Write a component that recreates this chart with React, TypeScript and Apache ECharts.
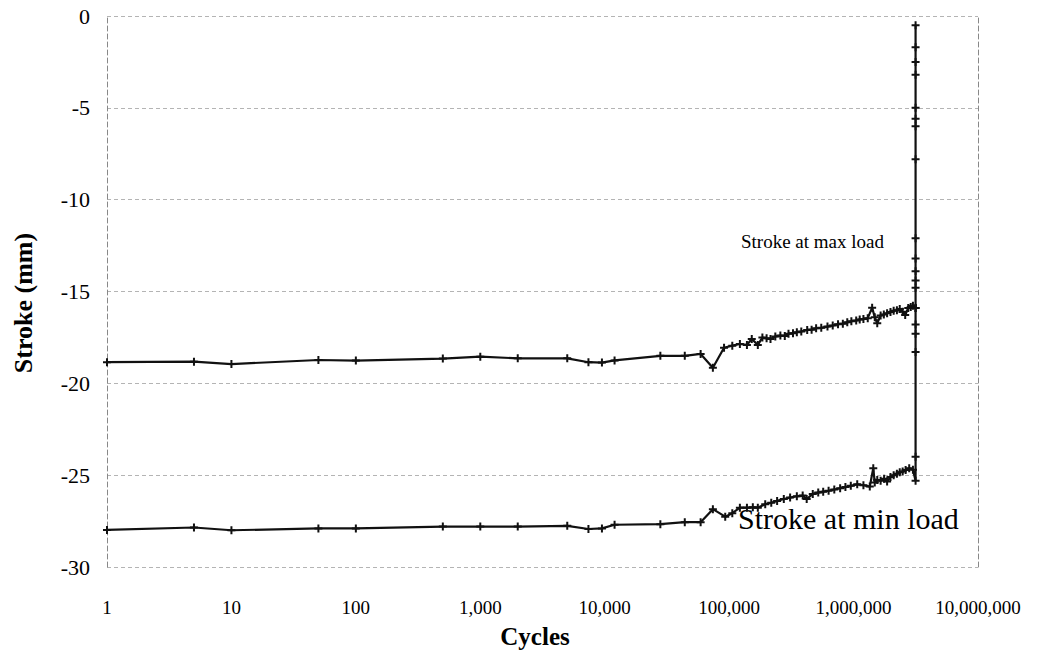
import React, { useEffect, useRef } from "react";
import * as echarts from "echarts";

const xTicks = [1, 10, 100, 1000, 10000, 100000, 1000000, 10000000];
const yTicks = [0, -5, -10, -15, -20, -25, -30];

const maxLoadCycles = [
  1, 5, 10, 50, 100, 500, 1000, 2000, 5000, 7400, 9500, 12000, 28000, 44000, 59000, 74000,
  91000, 106000, 122000, 139000, 152000, 170000, 185000, 200000, 215000, 235000, 258000, 280000,
  300000, 326000, 350000, 380000, 424000, 460000, 500000, 550000, 617000, 680000, 750000, 820000,
  890000, 960000, 1050000, 1120000, 1200000, 1300000, 1410000, 1480000, 1550000, 1650000, 1750000,
  1860000, 1980000, 2100000, 2230000, 2350000, 2480000, 2600000, 2750000, 2880000, 3000000,
  3150000, 3150000, 3150000, 3150000, 3150000, 3150000, 3150000, 3150000, 3150000, 3150000,
  3150000, 3150000, 3150000, 3150000,
];
const maxLoadStroke = [
  -18.85, -18.82, -18.95, -18.73, -18.76, -18.65, -18.55, -18.64, -18.64, -18.85, -18.87, -18.75,
  -18.5, -18.5, -18.4, -19.15, -18.06, -17.95, -17.86, -17.91, -17.58, -17.91, -17.51, -17.55,
  -17.58, -17.45, -17.4, -17.42, -17.3, -17.27, -17.22, -17.18, -17.09, -17.08, -17.0, -16.98,
  -16.91, -16.85, -16.78, -16.75, -16.68, -16.62, -16.58, -16.52, -16.5, -16.45, -15.88, -16.4,
  -16.73, -16.3, -16.25, -16.18, -16.12, -16.05, -16.02, -15.95, -16.1, -16.28, -15.9, -15.85,
  -15.77, -15.9, -14.8, -14.4, -13.9, -13.2, -12.1, -7.8, -6.0, -5.6, -5.0, -3.2, -2.5, -1.7, -0.5,
];

const minLoadCycles = [
  1, 5, 10, 50, 100, 500, 1000, 2000, 5000, 7400, 9500, 12000, 28000, 44000, 59000, 74000,
  93000, 106000, 122000, 139000, 155000, 170000, 195000, 218000, 243000, 275000, 309000, 350000,
  390000, 420000, 470000, 520000, 570000, 630000, 700000, 780000, 860000, 950000, 1070000,
  1200000, 1350000, 1440000, 1480000, 1550000, 1650000, 1760000, 1860000, 1980000, 2100000,
  2230000, 2350000, 2480000, 2620000, 2800000, 3000000, 3150000, 3150000, 3150000, 3150000,
  3150000, 3150000,
];
const minLoadStroke = [
  -27.98, -27.85, -28.0, -27.9, -27.9, -27.8, -27.8, -27.8, -27.76, -27.93, -27.9, -27.7, -27.67,
  -27.56, -27.56, -26.85, -27.26, -27.07, -26.77, -26.77, -26.75, -26.77, -26.58, -26.5, -26.4,
  -26.3, -26.22, -26.15, -26.11, -26.3, -26.02, -25.95, -25.9, -25.85, -25.78, -25.71, -25.65,
  -25.58, -25.5, -25.55, -25.62, -24.62, -25.4, -25.26, -25.3, -25.2, -25.35, -25.1, -25.0,
  -24.92, -24.84, -24.8, -24.72, -24.62, -24.7, -25.3, -24.0, -18.3, -17.3, -16.8, -15.9,
];

const seriesNames = ["Stroke at max load", "Stroke at min load"];
const xAxisTitle = "Cycles";
const yAxisTitle = "Stroke (mm)";

const fmt = (v: number) => Math.round(v).toString().replace(/\B(?=(\d{3})+(?!\d))/g, ",");

const plus = "path://M3,0H5V3H8V5H5V8H3V5H0V3H3Z";

export default function App() {
  const ref = useRef<HTMLDivElement>(null);
  useEffect(() => {
    if (!ref.current) return;
    const chart = echarts.init(ref.current, null, { renderer: "svg" });
    const font = "Liberation Serif";
    const gridLine = { show: true, lineStyle: { color: "#b4b4b4", width: 1, type: [4, 3] as any } };
    chart.setOption({
      animation: false,
      backgroundColor: "#ffffff",
      textStyle: { fontFamily: font },
      grid: { left: 107, right: 59, top: 16, bottom: 86, containLabel: false },
      xAxis: {
        type: "log",
        logBase: 10,
        min: xTicks[0],
        max: xTicks[xTicks.length - 1],
        axisLine: { show: false },
        axisTick: { show: false },
        splitLine: { show: false },
        axisLabel: { fontFamily: font, fontSize: 19, color: "#000", margin: 31, formatter: (v: number) => fmt(v) },
      },
      yAxis: [
        {
          type: "value",
          min: yTicks[yTicks.length - 1],
          max: yTicks[0],
          interval: 5,
          axisLine: { show: true, lineStyle: { color: "#888", width: 1, type: [5, 3] as any } },
          axisTick: { show: false },
          splitLine: gridLine,
          axisLabel: { fontFamily: font, fontSize: 22, color: "#000", margin: 17 },
        },
        {
          type: "value",
          position: "right",
          min: yTicks[yTicks.length - 1],
          max: yTicks[0],
          interval: 5,
          axisLine: { show: true, lineStyle: { color: "#888", width: 1, type: [5, 3] as any } },
          axisTick: { show: false },
          splitLine: { show: false },
          axisLabel: { show: false },
        },
      ],
      series: [
        {
          name: seriesNames[0],
          type: "line",
          data: maxLoadCycles.map((c, i) => [c, maxLoadStroke[i]]),
          symbol: plus,
          symbolSize: 8,
          showSymbol: true,
          lineStyle: { color: "#111", width: 2.2 },
          itemStyle: { color: "#111" },
        },
        {
          name: seriesNames[1],
          type: "line",
          data: minLoadCycles.map((c, i) => [c, minLoadStroke[i]]),
          symbol: plus,
          symbolSize: 8,
          showSymbol: true,
          lineStyle: { color: "#111", width: 2.2 },
          itemStyle: { color: "#111" },
        },
      ],
      graphic: [
        {
          type: "text",
          left: 741,
          top: 232,
          style: { text: seriesNames[0], fontFamily: font, fontSize: 19, fill: "#000" },
        },
        {
          type: "text",
          left: 738,
          top: 503,
          style: { text: seriesNames[1], fontFamily: font, fontSize: 30, fill: "#000" },
        },
        {
          type: "text",
          x: 535,
          y: 636,
          style: {
            text: xAxisTitle,
            fontFamily: font,
            fontWeight: "bold",
            fontSize: 25,
            fill: "#000",
            align: "center",
            verticalAlign: "middle",
          },
        },
        {
          type: "text",
          x: 23,
          y: 303,
          rotation: Math.PI / 2,
          style: {
            text: yAxisTitle,
            fontFamily: font,
            fontWeight: "bold",
            fontSize: 26,
            fill: "#000",
            align: "center",
            verticalAlign: "middle",
          },
        },
      ],
    });
    return () => chart.dispose();
  }, []);
  return (
    <div
      ref={ref}
      style={{ position: "fixed", left: 0, top: 0, width: 1037, height: 653, background: "#fff" }}
    />
  );
}
